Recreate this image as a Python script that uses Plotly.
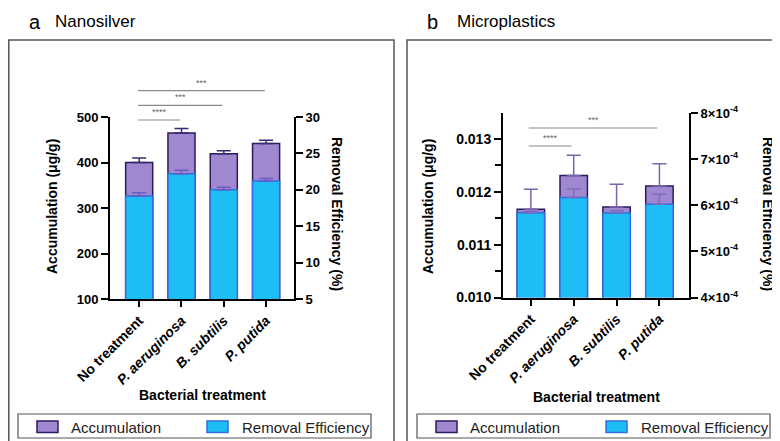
import plotly.graph_objects as go

# reference canvas in pixels; the page body adds an 8px margin, so the figure
# is drawn 8px smaller and every reference pixel position is shifted by 8px.
REF_W, REF_H = 780, 441
OFF = 8
W, H = REF_W - OFF, REF_H - OFF

# ---------------- data ----------------
categories = ["No treatment", "P. aeruginosa", "B. subtilis", "P. putida"]
category_labels = ["No treatment", "<i>P. aeruginosa</i>", "<i>B. subtilis</i>", "<i>P. putida</i>"]

# Panel a: Nanosilver
acc_a = [400, 465, 419, 442]
acc_a_err = [10, 10, 7, 7]
rem_a = [19.15, 22.2, 20.0, 21.2]
rem_a_err = [0.45, 0.5, 0.35, 0.35]

# Panel b: Microplastics
acc_b = [0.01167, 0.01231, 0.01171, 0.01211]
acc_b_err = [0.00038, 0.00038, 0.00043, 0.00042]
rem_b = [5.84e-4, 6.17e-4, 5.83e-4, 6.02e-4]
rem_b_err = [0.3e-5, 1.8e-5, 0.5e-5, 2.2e-5]

# tick labels
acc_a_ticks = [100, 200, 300, 400, 500]
rem_a_ticks = [5, 10, 15, 20, 25, 30]
acc_b_ticks = [0.010, 0.011, 0.012, 0.013]
rem_b_ticks = [4e-4, 5e-4, 6e-4, 7e-4, 8e-4]
rem_b_ticktext = ["4×10<sup>-4</sup>", "5×10<sup>-4</sup>", "6×10<sup>-4</sup>",
                  "7×10<sup>-4</sup>", "8×10<sup>-4</sup>"]

# significance comparisons (from index, to index, label)
sig_a = [(0, 1, "****"), (0, 2, "***"), (0, 3, "***")]
sig_b = [(0, 1, "****"), (0, 3, "***")]

series_names = ["Accumulation", "Removal Efficiency"]

# ---------------- styles ----------------
FONT = "Liberation Sans, Arial, sans-serif"
PURPLE = "#9f88d0"
PURPLE_LINE = "#2e1a5e"
BLUE = "#1ebdf5"
BLUE_LINE = "#2f6fe0"
BAR_W = 0.64

def px_x(p):
    return (p - OFF) / W

def px_y(p):
    return 1 - (p - OFF) / H

fig = go.Figure()

def add_panel(xa, ya_l, ya_r, acc, acc_err, rem, rem_err, acc_err_col, rem_err_col):
    fig.add_trace(go.Bar(
        x=categories, y=acc, name=series_names[0], xaxis=xa, yaxis=ya_l,
        width=BAR_W, showlegend=False,
        marker=dict(color=PURPLE, line=dict(color=PURPLE_LINE, width=1.5)),
        error_y=dict(type="data", array=acc_err, arrayminus=[0]*len(acc_err), symmetric=False,
                     color=acc_err_col, thickness=1.5, width=7),
    ))
    fig.add_trace(go.Bar(
        x=categories, y=rem, name=series_names[1], xaxis=xa, yaxis=ya_r,
        width=BAR_W, showlegend=False,
        marker=dict(color=BLUE, line=dict(color=BLUE_LINE, width=1.5)),
        error_y=dict(type="data", array=rem_err, arrayminus=[0]*len(rem_err), symmetric=False,
                     color=rem_err_col, thickness=1.5, width=7),
    ))

add_panel("x", "y", "y2", acc_a, acc_a_err, rem_a, rem_a_err, "#3b2a70", "#6a5ac8")
add_panel("x2", "y3", "y4", acc_b, acc_b_err, rem_b, rem_b_err, "#7a64aa", "#7a6cc0")

def tfont(size):
    return dict(family=FONT, size=size, color="black", weight="bold")

axis_common = dict(showline=True, linecolor="black", linewidth=2, ticks="outside",
                   ticklen=7, tickwidth=2, tickcolor="black", showgrid=False, zeroline=False,
                   tickfont=tfont(13))

xa_common = dict(axis_common, type="category", tickangle=-45, ticklen=6,
                 tickvals=categories, ticktext=category_labels, tickfont=tfont(14))

# panel geometry (reference pixels)
a_left, a_right, a_top, a_bot = 110, 294, 117, 299
b_left, b_right, b_top, b_bot = 503, 689, 113, 297.5

fig.update_layout(
    width=W, height=H, margin=dict(l=0, r=0, t=0, b=0, autoexpand=False),
    paper_bgcolor="white", plot_bgcolor="white", barmode="overlay",
    font=dict(family=FONT, color="black"), showlegend=False,
    xaxis=dict(xa_common, domain=[px_x(a_left), px_x(a_right)], anchor="y", range=[-0.69, 3.66]),
    yaxis=dict(axis_common, domain=[px_y(a_bot), px_y(a_top)], anchor="x",
               range=[100, 500], tickvals=acc_a_ticks),
    yaxis2=dict(axis_common, overlaying="y", side="right", anchor="x",
                range=[5, 30], tickvals=rem_a_ticks),
    xaxis2=dict(xa_common, domain=[px_x(b_left), px_x(b_right)], anchor="y3", range=[-0.65, 3.69]),
    yaxis3=dict(axis_common, domain=[px_y(b_bot), px_y(b_top)], anchor="x2",
                range=[0.010, 0.01349], tickvals=acc_b_ticks, tickformat=".3f",
                tickfont=tfont(14),
                minor=dict(dtick=0.0005, tick0=0.010, ticks="outside", ticklen=6,
                           tickwidth=2, tickcolor="black")),
    yaxis4=dict(axis_common, overlaying="y3", side="right", anchor="x2",
                range=[4e-4, 8e-4], tickvals=rem_b_ticks, ticktext=rem_b_ticktext),
)

shapes = []
annotations = []

# panel frames
shapes.append(dict(type="rect", xref="paper", yref="paper", x0=px_x(8.8), x1=px_x(394),
                   y0=-0.05, y1=px_y(40), line=dict(color="#555", width=1.5)))
shapes.append(dict(type="rect", xref="paper", yref="paper", x0=px_x(407), x1=1.05,
                   y0=-0.05, y1=px_y(40), line=dict(color="#555", width=1.5)))

# panel titles
for letter, lx, title, tx in [("a", 27, "Nanosilver", 53), ("b", 425, "Microplastics", 455)]:
    annotations.append(dict(text=letter, xref="paper", yref="paper", x=px_x(lx), y=px_y(22),
                            xanchor="left", yanchor="middle", showarrow=False,
                            font=dict(family=FONT, size=20, color="black")))
    annotations.append(dict(text=title, xref="paper", yref="paper", x=px_x(tx), y=px_y(22),
                            xanchor="left", yanchor="middle", showarrow=False,
                            font=dict(family=FONT, size=17, color="black")))

# axis titles
title_font = dict(family=FONT, size=14, color="black", weight="bold")
for (lx, rx, xt_x, xt_y) in [(52, 337, 202, 395), (428, 768, 596, 397)]:
    annotations.append(dict(text="Accumulation (μg/g)", xref="paper", yref="paper",
                            x=px_x(lx), y=px_y(207), textangle=-90, showarrow=False,
                            xanchor="center", yanchor="middle", font=title_font))
    annotations.append(dict(text="Removal Efficiency (%)", xref="paper", yref="paper",
                            x=px_x(rx), y=px_y(214), textangle=90, showarrow=False,
                            xanchor="center", yanchor="middle", font=title_font))
    annotations.append(dict(text="Bacterial treatment", xref="paper", yref="paper",
                            x=px_x(xt_x), y=px_y(xt_y), showarrow=False,
                            xanchor="center", yanchor="middle", font=title_font))

# legends (one boxed legend per panel)
for off in [0, 399]:
    shapes.append(dict(type="rect", xref="paper", yref="paper", x0=px_x(18 + off),
                       x1=px_x(371 + off), y0=px_y(438), y1=px_y(414),
                       line=dict(color="#555", width=1.2), fillcolor="white"))
    for (sx, tx, fill, edge, name) in [(37, 69, PURPLE, PURPLE_LINE, series_names[0]),
                                       (207, 240, BLUE, BLUE_LINE, series_names[1])]:
        shapes.append(dict(type="rect", xref="paper", yref="paper", x0=px_x(sx + off),
                           x1=px_x(sx + 21 + off), y0=px_y(432.5), y1=px_y(421),
                           line=dict(color=edge, width=1.5), fillcolor=fill))
        annotations.append(dict(text=name, xref="paper", yref="paper", x=px_x(tx + off),
                                y=px_y(427), xanchor="left", yanchor="middle", showarrow=False,
                                font=dict(family=FONT, size=15, color="#222")))

# significance brackets
def add_sig(xref, pairs, ys_px, off):
    for (i, j, lab), yp in zip(pairs, ys_px):
        shapes.append(dict(type="line", xref=xref, yref="paper", x0=i + off, x1=j + off,
                           y0=px_y(yp), y1=px_y(yp), line=dict(color="#8a8a8a", width=1.2)))
        annotations.append(dict(text=lab, xref=xref, yref="paper", x=(i + j) / 2 + off,
                                y=px_y(yp - 1), yanchor="bottom", showarrow=False,
                                font=dict(family=FONT, size=9, color="#666")))

add_sig("x", sig_a, [120, 105.3, 90.7], -0.03)
add_sig("x2", sig_b, [146, 128], -0.05)

fig.update_layout(shapes=shapes, annotations=annotations)

fig.write_html("out.html")
